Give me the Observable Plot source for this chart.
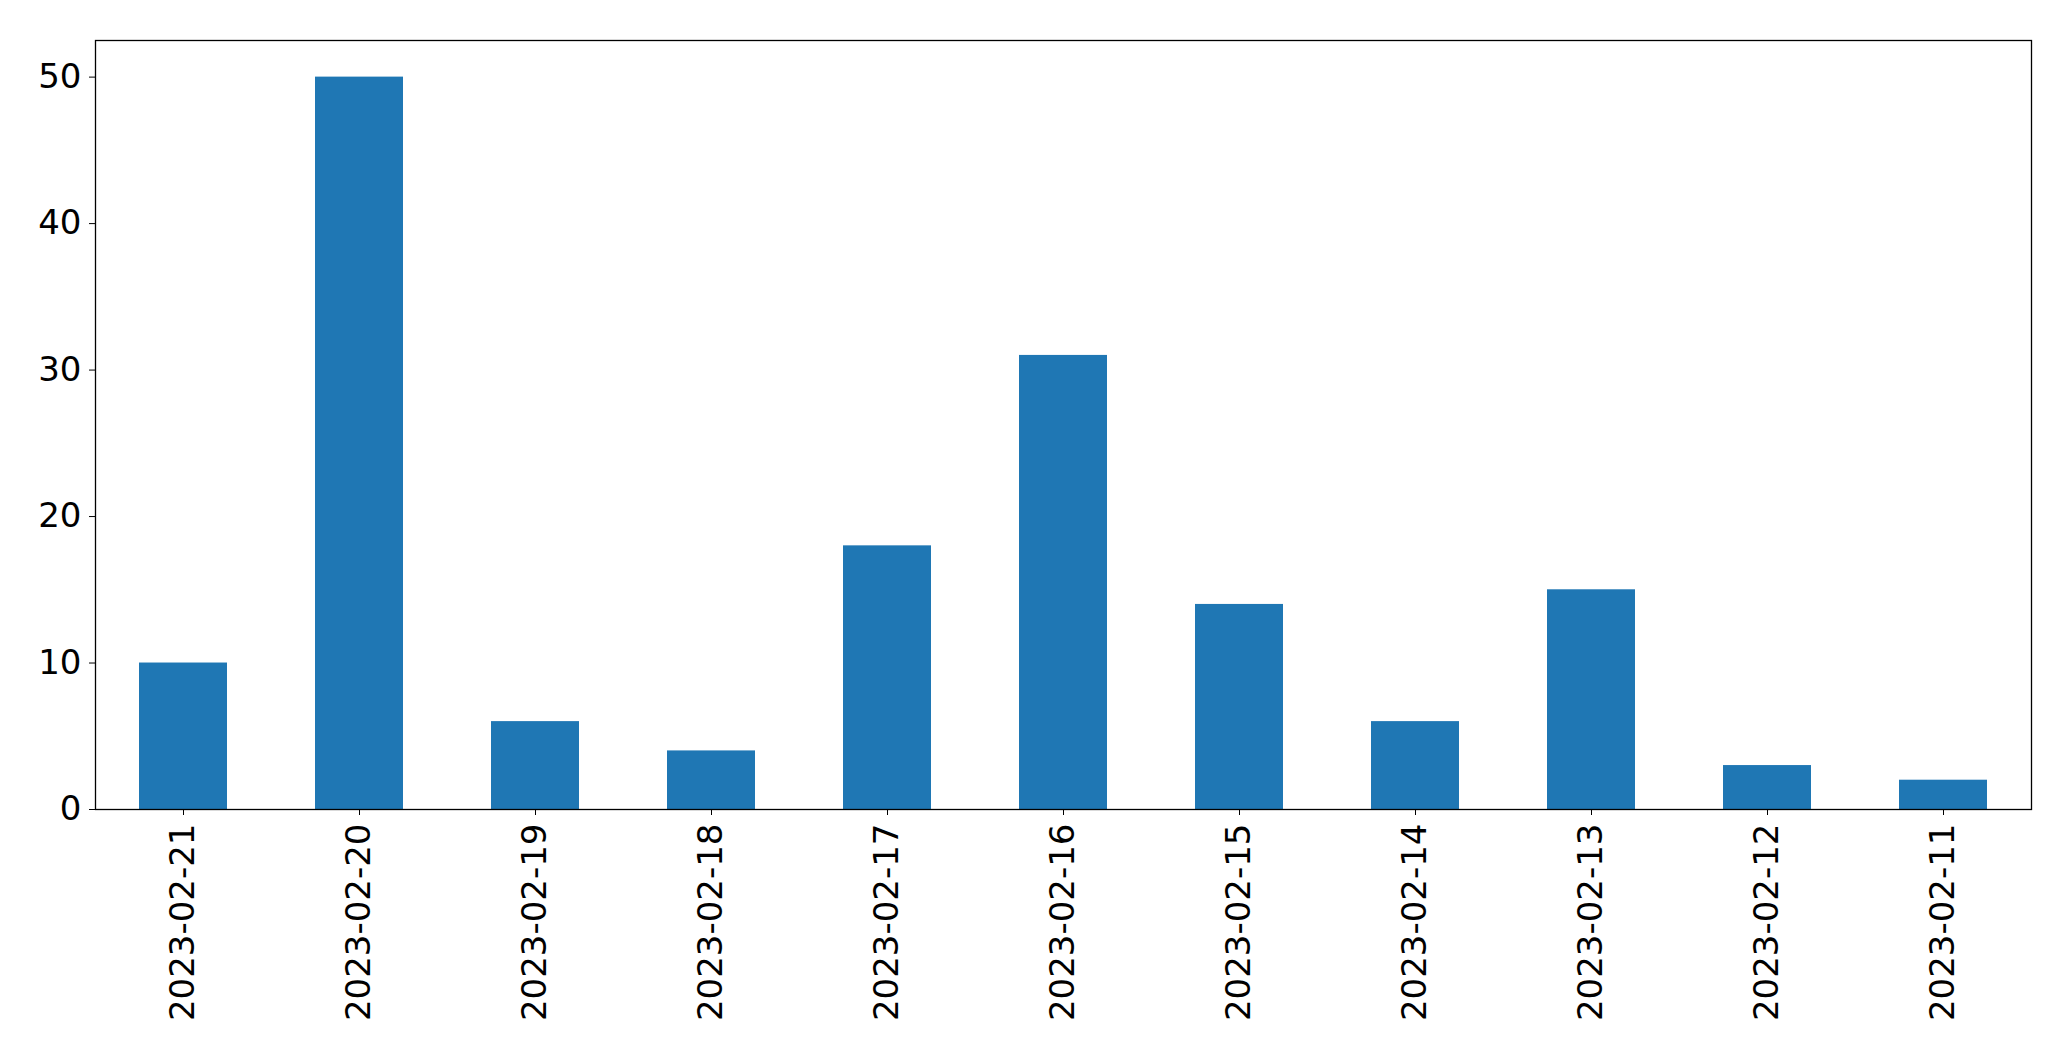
<!DOCTYPE html>
<html>
<head>
<meta charset="utf-8">
<script src="https://cdn.jsdelivr.net/npm/d3@7"></script>
<script src="https://cdn.jsdelivr.net/npm/@observablehq/plot@0.6"></script>
<style>
html, body { margin: 0; padding: 0; background: #fff; }
#chart svg { display: block; font-family: "DejaVu Sans", sans-serif; }
</style>
</head>
<body>
<div id="chart"></div>
<script>
const dates = ["2023-02-21","2023-02-20","2023-02-19","2023-02-18","2023-02-17","2023-02-16","2023-02-15","2023-02-14","2023-02-13","2023-02-12","2023-02-11"];
const counts = [10, 50, 6, 4, 18, 31, 14, 6, 15, 3, 2];
const yTicks = [0, 10, 20, 30, 40, 50];

const data = dates.map((d, i) => ({date: d, count: counts[i]}));

const chart = Plot.plot({
  width: 2071,
  height: 1061,
  marginLeft: 95,
  marginRight: 40,
  marginTop: 40,
  marginBottom: 252,
  style: {fontFamily: "DejaVu Sans, sans-serif", background: "#fff", color: "#000"},
  x: {type: "band", domain: dates, paddingInner: 0.5, paddingOuter: 0.25},
  y: {domain: [0, 52.5]},
  marks: [
    Plot.barY(data, {x: "date", y: "count", fill: "#1f77b4"}),
    Plot.frame({stroke: "#000", strokeWidth: 1.3}),
    Plot.axisY({ticks: yTicks, tickSize: 6, tickPadding: 8, fontSize: 34, label: null, stroke: "#000", fill: "#000"}),
    Plot.axisX({tickRotate: -90, tickSize: 6, tickPadding: 8, fontSize: 34, label: null, stroke: "#000", fill: "#000"})
  ]
});
document.getElementById("chart").appendChild(chart);
</script>
</body>
</html>
